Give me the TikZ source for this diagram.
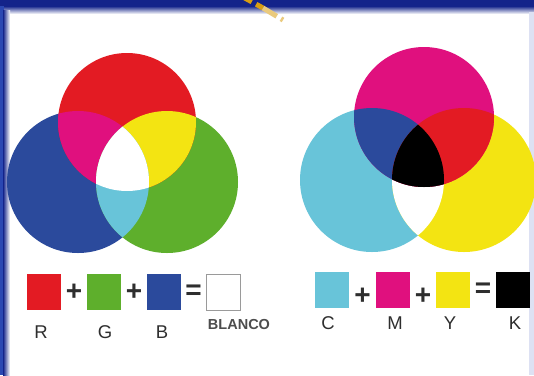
\documentclass[tikz,border=0pt]{standalone}
\usepackage{fontspec}
\setmainfont{Liberation Sans}
\usetikzlibrary{positioning}
\definecolor{rgbred}{HTML}{E31B23}
\definecolor{rgbgreen}{HTML}{5EAF2C}
\definecolor{rgbblue}{HTML}{2B4A9C}
\definecolor{mixmagenta}{HTML}{E0107E}
\definecolor{mixyellow}{HTML}{F3E412}
\definecolor{mixcyan}{HTML}{68C4D9}
\definecolor{framenavy}{HTML}{13238A}
\definecolor{frameblue}{HTML}{2A47B2}
\definecolor{framelav}{HTML}{DDE1F3}
\definecolor{dashorange}{HTML}{D89E12}
\definecolor{inkgray}{HTML}{2E2E2E}
\definecolor{edgegray}{HTML}{9A9A9A}
\tikzset{
  swatch/.style={
    minimum width=34pt,
    minimum height=36pt,
    inner sep=0pt,
    outer sep=0pt
  },
  opsign/.style={font=\fontsize{28}{28}\selectfont\bfseries, text=inkgray, inner sep=0pt},
  chanlabel/.style={font=\fontsize{18.5}{18.5}\selectfont, text=inkgray, inner sep=0pt},
  namelabel/.style={font=\fontsize{14.5}{14.5}\selectfont\bfseries, text=inkgray!85, inner sep=0pt}
}

\begin{document}
\begin{tikzpicture}[x=1pt, y=-1pt, node distance=26pt]
\useasboundingbox (0,0) rectangle (534,375);
\fill[frameblue] (0,0) rectangle (534,375);
\fill[white] (9,11) rectangle (529,375);
\fill[framenavy] (0,0) rectangle (534,6);
\shade[top color=framenavy, bottom color=white] (4,6) rectangle (534,14);
\shade[left color=framenavy, right color=white] (3,10) rectangle (10,375);
\fill[framelav] (529,12) rectangle (534,375);
\draw[line width=5pt, draw=dashorange, dash pattern=on 10pt off 5pt] (243,-3) -- (263,8);
\draw[line width=5pt, draw=dashorange!55, dash pattern=on 16pt off 5pt] (263,8) -- (283,20);

\coordinate (cB) at (78,182);
\coordinate (cG) at (167,182);
\coordinate (cR) at (127,122);
\fill[rgbblue] (cB) circle[radius=71pt];
\fill[rgbgreen] (cG) circle[radius=71pt];
\fill[rgbred] (cR) circle[radius=69pt];
\begin{scope}
  \clip (cR) circle[radius=69pt];
  \fill[mixmagenta] (cB) circle[radius=71pt];
  \fill[mixyellow] (cG) circle[radius=71pt];
\end{scope}
\begin{scope}
  \clip (cB) circle[radius=71pt];
  \fill[mixcyan] (cG) circle[radius=71pt];
  \clip (cR) circle[radius=69pt];
  \fill[white] (cG) circle[radius=71pt];
\end{scope}

\coordinate (cC) at (372,180);
\coordinate (cY) at (464,180);
\coordinate (cM) at (424,117);
\fill[mixcyan] (cC) circle[radius=72pt];
\fill[mixyellow] (cY) circle[radius=72pt];
\begin{scope}
  \clip (cC) circle[radius=72pt];
  \fill[white] (cY) circle[radius=72pt];
\end{scope}
\fill[mixmagenta] (cM) circle[radius=70pt];
\begin{scope}
  \clip (cM) circle[radius=70pt];
  \fill[rgbblue] (cC) circle[radius=72pt];
  \fill[rgbred] (cY) circle[radius=72pt];
  \clip (cC) circle[radius=72pt];
  \fill[black] (cY) circle[radius=72pt];
\end{scope}

\node[swatch, fill=rgbred] (sqR) at (44,292) {};
\node[swatch, fill=rgbgreen, right=of sqR] (sqG) {};
\node[swatch, fill=rgbblue, right=of sqG] (sqB) {};
\node[swatch, fill=white, draw=edgegray, line width=1pt, right=25pt of sqB] (sqW) {};
\path (sqR) -- (sqG) node[midway, opsign] (plusRG) {+};
\path (sqG) -- (sqB) node[midway, opsign] (plusGB) {+};
\path (sqB) -- (sqW) node[midway, opsign] (eqRGB) {=};
\node[chanlabel] (labR) at (41,332) {R};
\node[chanlabel] (labG) at (105,332) {G};
\node[chanlabel] (labB) at (162,332) {B};
\node[namelabel] (labW) at (239,324) {BLANCO};

\node[swatch, fill=mixcyan] (sqC) at (332,290) {};
\node[swatch, fill=mixmagenta, right=27pt of sqC] (sqM) {};
\node[swatch, fill=mixyellow, right=of sqM] (sqY) {};
\node[swatch, fill=black, right=of sqY] (sqK) {};
\path (sqC) -- (sqM) node[midway, opsign, yshift=-6pt] (plusCM) {+};
\path (sqM) -- (sqY) node[midway, opsign, yshift=-6pt] (plusMY) {+};
\path (sqY) -- (sqK) node[midway, opsign] (eqCMY) {=};
\node[chanlabel] (labC) at (328,323) {C};
\node[chanlabel] (labM) at (395,323) {M};
\node[chanlabel] (labY) at (450,323) {Y};
\node[chanlabel] (labK) at (515,323) {K};
\end{tikzpicture}
\end{document}
